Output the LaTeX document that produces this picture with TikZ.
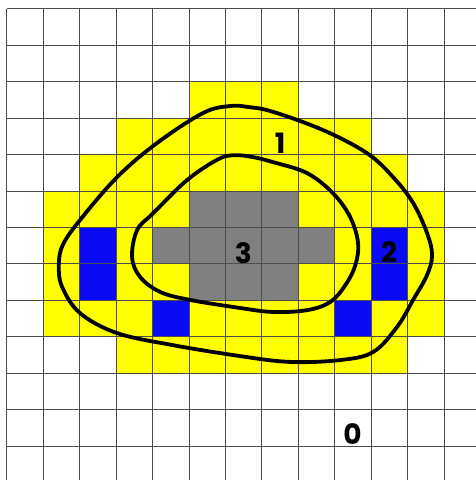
\documentclass[tikz,border=0pt]{standalone}
\usepackage{fontspec}
\newfontfamily\levelfont{Poppins}
\definecolor{lvlyellow}{RGB}{255,255,0}
\definecolor{lvlblue}{RGB}{10,10,245}
\definecolor{lvlgray}{RGB}{128,128,128}

\begin{document}
\begin{tikzpicture}[
    x=36.45pt, y=-36.45pt,
    gridline/.style={draw=black!70, line width=0.9pt},
    contour/.style={draw=black, line width=3.8pt},
    level/.style={
      inner sep=0pt,
      font=\levelfont\bfseries\fontsize{28}{28}\selectfont
    }
  ]
    \useasboundingbox (-0.184,-0.239) rectangle (12.875,12.93);
    \clip (-0.184,-0.239) rectangle (12.875,12.93);

    % level 1 cells
    \fill[lvlyellow] (5,2) rectangle (8,3);
    \fill[lvlyellow] (3,3) rectangle (10,4);
    \fill[lvlyellow] (2,4) rectangle (11,5);
    \fill[lvlyellow] (1,5) rectangle (12,9);
    \fill[lvlyellow] (3,9) rectangle (11,10);
    % level 3 cells
    \fill[lvlgray] (5,5) rectangle (8,6);
    \fill[lvlgray] (4,6) rectangle (9,7);
    \fill[lvlgray] (5,7) rectangle (8,8);
    % level 2 cells
    \foreach \c/\r/\h in {2/6/2, 10/6/2, 4/8/1, 9/8/1}
      \fill[lvlblue] (\c,\r) rectangle ++(1,\h);

    % grid
    \foreach \i in {0,...,13} {
      \draw[gridline] (\i,0) -- (\i,13);
      \draw[gridline] (0,\i) -- (13,\i);
    }

    % contours
    \draw[contour] plot[smooth cycle, tension=0.6] coordinates {
      (6.13,2.67) (6.65,2.70) (7.31,2.83) (8.68,3.33) (9.88,3.96) (10.60,4.62)
      (11.15,5.33) (11.53,6.15) (11.67,6.76) (11.53,7.31) (11.15,7.99)
      (10.71,8.73) (10.05,9.42) (9.14,9.64) (7.77,9.69) (6.40,9.53)
      (4.56,9.23) (3.03,8.90) (2.01,8.35) (1.52,7.63) (1.43,7.03)
      (1.54,6.48) (2.01,5.80) (3.03,4.62) (4.13,3.68) (5.39,2.86)};
    \draw[contour] plot[smooth cycle, tension=0.6] coordinates {
      (6.25,4.02) (6.75,4.07) (7.31,4.21) (8.24,4.51) (8.95,5.06) (9.42,5.71)
      (9.64,6.43) (9.56,7.05) (9.28,7.60) (8.87,8.05) (8.24,8.27)
      (7.31,8.32) (6.40,8.21) (5.03,7.99) (4.21,7.77) (3.66,7.36)
      (3.44,6.81) (3.58,6.07) (4.02,5.61) (4.95,4.70) (5.80,4.13)};

    \node[level] (one) at (7.50,3.68) {1};
    \node[level] (two) at (10.49,6.68) {2};
    \node[level] (three) at (6.49,6.71) {3};
    \node[level] (zero) at (9.49,11.67) {0};
  \end{tikzpicture}
\end{document}
